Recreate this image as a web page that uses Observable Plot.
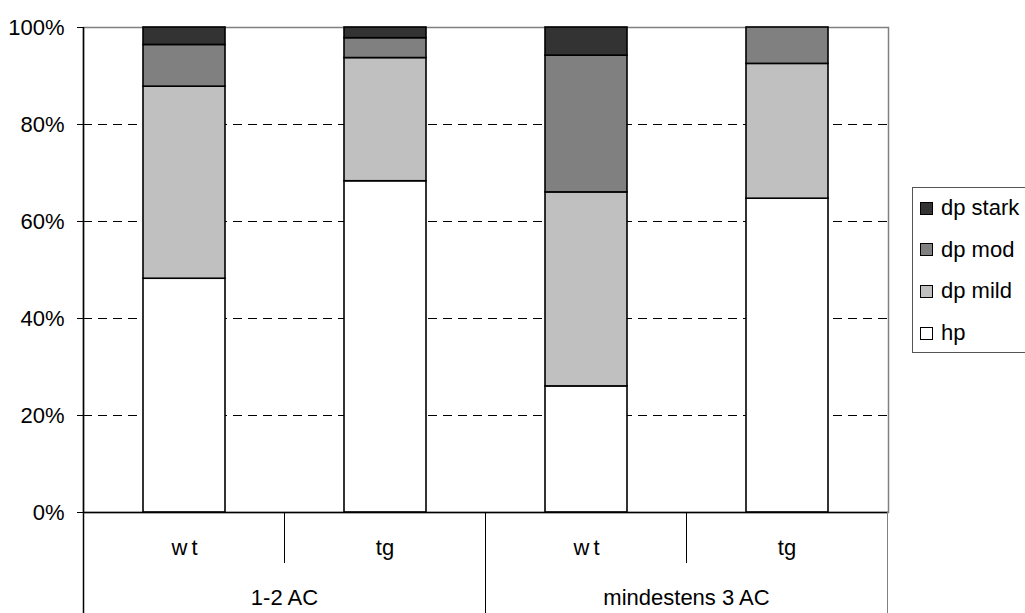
<!DOCTYPE html>
<html>
<head>
<meta charset="utf-8">
<script src="https://cdn.jsdelivr.net/npm/d3@7"></script>
<script src="https://cdn.jsdelivr.net/npm/@observablehq/plot@0.6"></script>
<style>
  html, body { margin: 0; padding: 0; background: #fff; overflow: hidden; }
  #wrap { position: relative; width: 1025px; height: 613px; overflow: hidden; font-family: "Liberation Sans", Arial, sans-serif; }
  #legend { position: absolute; left: 912px; top: 187px; width: 120px; height: 166px; border: 1px solid #555; background: #fff; box-sizing: border-box; }
  .row { position: absolute; left: 7px; display: flex; align-items: center; font-size: 22px; color: #000; height: 26px; }
  .sw { width: 11px; height: 11px; border: 1px solid #000; margin-right: 8px; }
</style>
</head>
<body>
<div id="wrap"></div>
<script>
// ---- data ----
const groups = ["1-2 AC", "1-2 AC", "mindestens 3 AC", "mindestens 3 AC"];
const subs = ["w t", "tg", "w t", "tg"];
const series = ["hp", "dp mild", "dp mod", "dp stark"];
const colors = ["#ffffff", "#c0c0c0", "#808080", "#333333"];
const hp = [48.2, 68.3, 26.0, 64.7];
const dpMild = [39.6, 25.4, 40.0, 27.8];
const dpMod = [8.6, 4.1, 28.2, 7.5];
const dpStark = [3.6, 2.2, 5.8, 0];
const yTicks = [0, 20, 40, 60, 80, 100];
const gridTicks = [20, 40, 60, 80];

const seriesValues = [hp, dpMild, dpMod, dpStark];
const data = [];
series.forEach((s, si) => {
  seriesValues[si].forEach((v, i) => {
    if (v > 0) data.push({i, series: s, value: v});
  });
});
const keys = subs.map((_, i) => i);

const font = '"Liberation Sans", Arial, sans-serif';

const plot = Plot.plot({
  width: 1025,
  height: 613,
  marginLeft: 83,
  marginRight: 137,
  marginTop: 27,
  marginBottom: 101,
  style: {fontFamily: font, fontSize: "22px", color: "#000", background: "#fff", overflow: "visible"},
  x: {domain: keys, paddingInner: 0.59, paddingOuter: 0.295, axis: null},
  y: {domain: [0, 100], axis: null},
  color: {domain: series, range: colors},
  marks: [
    Plot.ruleY(gridTicks, {stroke: "#000", strokeWidth: 1, strokeDasharray: "9,6"}),
    Plot.frame({stroke: "#808080", strokeWidth: 1.5}),
    Plot.barY(data, {x: "i", y: "value", fill: "series", order: series, stroke: "#000", strokeWidth: 1.6}),
    Plot.axisY({ticks: yTicks, tickFormat: d => d + "%", tickSize: 6, tickPadding: 13, label: null, fontSize: 22, stroke: "#000", fill: "#000"}),
    Plot.ruleY([0], {stroke: "#000", strokeWidth: 1.5})
  ]
});
document.getElementById("wrap").appendChild(plot);

// ---- two-level category axis using the plot's own scales ----
const xs = plot.scale("x"), ys = plot.scale("y");
const svg = d3.select(plot);
const y0 = ys.apply(0), yTop = ys.apply(100);
const half = xs.step / 2;
const center = k => xs.apply(k) + xs.bandwidth / 2;
const g = svg.append("g").attr("stroke", "#000").attr("stroke-width", 1);
// y axis line
const leftX = center(keys[0]) - half;
g.append("line").attr("x1", leftX).attr("x2", leftX).attr("y1", yTop).attr("y2", 613).attr("stroke-width", 1.5);
// separators
keys.forEach((k, idx) => {
  const right = center(k) + half;
  const last = idx === keys.length - 1;
  const groupEnd = last || groups[idx + 1] !== groups[idx];
  g.append("line").attr("x1", right).attr("x2", right).attr("y1", y0)
    .attr("y2", groupEnd ? 613 : y0 + 51)
    .attr("stroke", last ? "#808080" : "#000");
});
const t = svg.append("g").attr("font-family", font).attr("font-size", 22).attr("fill", "#000").attr("text-anchor", "middle");
keys.forEach(k => {
  t.append("text").attr("x", center(k)).attr("y", y0 + 35).attr("dy", "0.35em")
    .attr("letter-spacing", subs[k] === "w t" ? "-1" : null).text(subs[k]);
});
const uniq = [...new Set(groups)];
uniq.forEach(gName => {
  const ks = keys.filter(k => groups[k] === gName);
  const cx = d3.mean(ks, center);
  t.append("text").attr("x", cx).attr("y", y0 + 85).attr("dy", "0.35em").text(gName);
});

// ---- legend ----
const legend = document.createElement("div");
legend.id = "legend";
const order = series.slice().reverse();
order.forEach((s, j) => {
  const row = document.createElement("div");
  row.className = "row";
  row.style.top = (7 + j * 41.7) + "px";
  const sw = document.createElement("div");
  sw.className = "sw";
  sw.style.background = colors[series.indexOf(s)];
  const lab = document.createElement("span");
  lab.textContent = s;
  row.appendChild(sw); row.appendChild(lab);
  legend.appendChild(row);
});
document.getElementById("wrap").appendChild(legend);
</script>
</body>
</html>
